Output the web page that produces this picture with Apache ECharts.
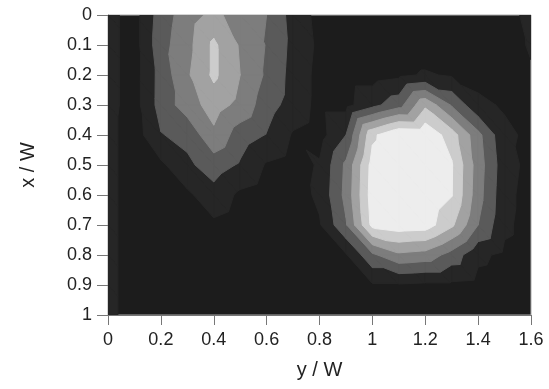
<!DOCTYPE html>
<html>
<head>
<meta charset="utf-8">
<script src="https://cdn.jsdelivr.net/npm/echarts@6/dist/echarts.min.js"></script>
<style>
  html, body { margin: 0; padding: 0; background: #ffffff; }
  #chart { width: 549px; height: 389px; }
</style>
</head>
<body>
<div id="chart"></div>
<script>
// Grid nodes: columns along y/W, rows along x/W
const yNodes = [0, 0.1, 0.2, 0.3, 0.4, 0.5, 0.6, 0.7, 0.8, 0.9, 1.0, 1.1, 1.2, 1.3, 1.4, 1.5, 1.6];
const xNodes = [0, 0.1, 0.2, 0.3, 0.4, 0.5, 0.6, 0.7, 0.8, 0.9, 1.0];

// Intensity (contour level units) at each node, one array per x/W row
const rowX00 = [1.3, 0.6, 2.5, 3.5, 4.3, 3.45, 3.0, 1.6, 0.7, 0.5, 0.5, 0.5, 0.5, 0.5, 0.5, 0.6, 1.3];
const rowX01 = [1.3, 0.6, 2.63, 3.67, 5.2, 3.89, 2.94, 1.72, 0.8, 0.5, 0.5, 0.5, 0.5, 0.5, 0.5, 0.6, 1.1];
const rowX02 = [1.3, 0.6, 2.38, 3.86, 5.2, 4.0, 2.84, 1.64, 0.7, 0.6, 0.6, 0.8, 1.1, 0.9, 0.7, 0.7, 0.9];
const rowX03 = [1.3, 0.6, 2.4, 3.5, 4.45, 3.71, 2.44, 1.58, 0.7, 0.7, 1.7, 2.6, 4.8, 2.9, 1.2, 0.9, 0.8];
const rowX04 = [1.3, 0.5, 1.95, 2.28, 3.78, 2.5, 1.95, 0.9, 0.6, 2.0, 5.8, 6.9, 6.8, 5.5, 3.3, 1.2, 0.8];
const rowX05 = [1.3, 0.5, 0.8, 1.8, 2.48, 1.88, 0.9, 0.6, 1.1, 3.2, 6.4, 7.0, 7.0, 6.1, 3.5, 1.4, 0.7];
const rowX06 = [1.3, 0.5, 0.5, 0.8, 1.63, 0.8, 0.5, 0.5, 1.2, 3.3, 6.5, 6.9, 6.8, 6.05, 3.4, 1.3, 0.6];
const rowX07 = [1.3, 0.5, 0.5, 0.5, 0.8, 0.5, 0.5, 0.5, 0.9, 2.9, 6.3, 6.6, 6.5, 5.2, 3.0, 1.2, 0.6];
const rowX08 = [1.3, 0.5, 0.5, 0.5, 0.5, 0.5, 0.5, 0.5, 0.7, 0.9, 2.8, 3.8, 3.6, 2.6, 1.2, 0.8, 0.6];
const rowX09 = [1.3, 0.5, 0.5, 0.5, 0.5, 0.5, 0.5, 0.5, 0.6, 0.7, 0.9, 0.9, 0.8, 0.8, 0.7, 0.6, 0.6];
const rowX10 = [1.3, 0.5, 0.5, 0.5, 0.5, 0.5, 0.5, 0.5, 0.5, 0.5, 0.5, 0.5, 0.5, 0.5, 0.5, 0.5, 0.5];

// Contour thresholds and the grey used for each band (band 0 = below first threshold)
const levelBreaks = [1, 2, 3, 4, 5, 6];
const levelColors = ['#1c1c1c', '#262626', '#5a5a5a', '#7d7d7d', '#a2a2a2', '#cccccc', '#ededed'];

// Axis ticks
const yTicks = [0, 0.2, 0.4, 0.6, 0.8, 1, 1.2, 1.4, 1.6];
const xTicks = [0, 0.1, 0.2, 0.3, 0.4, 0.5, 0.6, 0.7, 0.8, 0.9, 1];

const rows = [rowX00, rowX01, rowX02, rowX03, rowX04, rowX05, rowX06, rowX07, rowX08, rowX09, rowX10];
const nCols = yNodes.length - 1;
const nRows = xNodes.length - 1;

// one item per (band, grid cell); bands are listed lowest first so brighter
// bands are always painted over darker ones
const cells = [];
levelBreaks.forEach(function (t, k) {
  for (let i = 0; i < nRows; i++) {
    for (let j = 0; j < nCols; j++) {
      cells.push([yNodes[j], xNodes[i], k, i, j]);
    }
  }
});

// keep the part of a triangle where the linearly interpolated value >= t
function clipAbove(pts, vals, t) {
  const out = [];
  const n = pts.length;
  for (let a = 0; a < n; a++) {
    const b = (a + 1) % n;
    const va = vals[a], vb = vals[b];
    const ina = va >= t, inb = vb >= t;
    if (ina) out.push(pts[a]);
    if (ina !== inb) {
      const f = (t - va) / (vb - va);
      out.push([pts[a][0] + f * (pts[b][0] - pts[a][0]), pts[a][1] + f * (pts[b][1] - pts[a][1])]);
    }
  }
  return out;
}

function renderCell(params, api) {
  const k = api.value(2);
  const i = api.value(3);
  const j = api.value(4);
  const t = levelBreaks[k];
  const color = levelColors[k + 1];
  const p00 = api.coord([yNodes[j], xNodes[i]]);
  const p01 = api.coord([yNodes[j + 1], xNodes[i]]);
  const p10 = api.coord([yNodes[j], xNodes[i + 1]]);
  const p11 = api.coord([yNodes[j + 1], xNodes[i + 1]]);
  const v00 = rows[i][j], v01 = rows[i][j + 1], v10 = rows[i + 1][j], v11 = rows[i + 1][j + 1];
  const tris = [
    [[p00, p01, p11], [v00, v01, v11]],
    [[p00, p11, p10], [v00, v11, v10]]
  ];
  const children = [];
  tris.forEach(function (tri) {
    const poly = clipAbove(tri[0], tri[1], t);
    if (poly.length >= 3) {
      children.push({
        type: 'polygon',
        shape: { points: poly },
        style: { fill: color, stroke: color, lineWidth: 1, lineJoin: 'round' }
      });
    }
  });
  return { type: 'group', children: children };
}

const chart = echarts.init(document.getElementById('chart'), null, { renderer: 'canvas' });
const labelFont = { color: '#222', fontSize: 18, fontFamily: 'Liberation Sans, Arial, sans-serif' };
const nameFont = { color: '#222', fontSize: 20, fontFamily: 'Liberation Sans, Arial, sans-serif' };

chart.setOption({
  animation: false,
  backgroundColor: '#ffffff',
  grid: {
    left: 108, top: 15, right: 18, bottom: 74,
    show: true, borderColor: '#aaaaaa', borderWidth: 1, backgroundColor: levelColors[0]
  },
  xAxis: {
    type: 'value',
    min: yTicks[0], max: yTicks[yTicks.length - 1], interval: 0.2,
    name: 'y / W', nameLocation: 'middle', nameGap: 45,
    nameTextStyle: nameFont,
    axisLine: { show: true, onZero: false, lineStyle: { color: '#777', width: 1 } },
    axisTick: { show: true, length: 10, lineStyle: { color: '#777' } },
    axisLabel: Object.assign({ margin: 16 }, labelFont),
    splitLine: { show: false }
  },
  yAxis: {
    type: 'value', inverse: true,
    min: xTicks[0], max: xTicks[xTicks.length - 1], interval: 0.1,
    name: 'x / W', nameLocation: 'middle', nameGap: 70, nameRotate: 90,
    nameTextStyle: nameFont,
    axisLine: { show: true, onZero: false, lineStyle: { color: '#777', width: 1 } },
    axisTick: { show: true, length: 11, lineStyle: { color: '#777' } },
    axisLabel: Object.assign({ margin: 16 }, labelFont),
    splitLine: { show: false }
  },
  series: [{
    type: 'custom',
    renderItem: renderCell,
    data: cells,
    dimensions: ['y', 'x', 'band', 'row', 'col'],
    encode: { x: 0, y: 1 },
    clip: true,
    silent: true,
    z: 1
  }]
});
</script>
</body>
</html>
